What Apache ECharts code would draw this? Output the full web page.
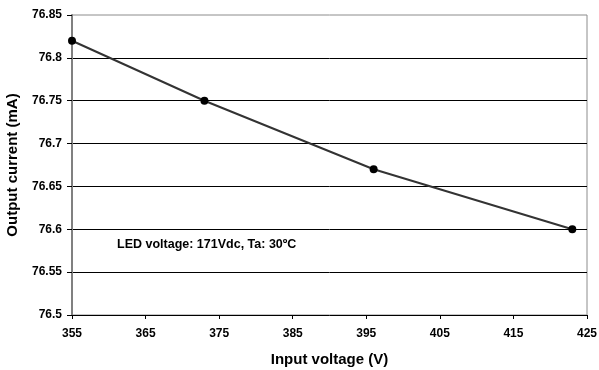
<!DOCTYPE html>
<html>
<head>
<meta charset="utf-8">
<script src="https://cdn.jsdelivr.net/npm/echarts@6/dist/echarts.min.js"></script>
<style>
  html, body { margin: 0; padding: 0; background: #fff; }
  #chart { width: 599px; height: 370px; }
</style>
</head>
<body>
<div id="chart"></div>
<script>
/*输入电压 (V)*/
var inputVoltage = [355, 373, 396, 423];
/*输出电流 (mA)*/
var outputCurrent = [76.82, 76.75, 76.67, 76.60];
var noteText = 'LED voltage: 171Vdc, Ta: 30ºC';

var myChart = echarts.init(document.getElementById('chart'));

var pts = [];
for (var i = 0; i < inputVoltage.length; i++) {
	pts.push([inputVoltage[i], outputCurrent[i]]);
}

var font = 'Liberation Sans, Arial, sans-serif';

var option = {
	animation: false,
	backgroundColor: '#fff',
	grid: {
		left: 72,
		right: 12,
		top: 15,
		bottom: 55,
		outerBoundsMode: 'none',
		containLabel: false,
		show: true,
		borderColor: '#8c8c8c',
		borderWidth: 1
	},
	xAxis: {
		type: 'value',
		min: 355,
		max: 425,
		interval: 10,
		name: 'Input voltage (V)',
		nameLocation: 'middle',
		nameGap: 37,
		nameTextStyle: { fontFamily: font, fontWeight: 'bold', fontSize: 15, color: '#000' },
		axisLine: { show: true, lineStyle: { color: '#000', width: 1 } },
		axisTick: { show: true, length: 4, lineStyle: { color: '#000' } },
		axisLabel: { fontFamily: font, fontWeight: 'bold', fontSize: 12, color: '#000', margin: 13 },
		splitLine: { show: false }
	},
	yAxis: {
		type: 'value',
		min: 76.5,
		max: 76.85,
		interval: 0.05,
		name: 'Output current (mA)',
		nameLocation: 'middle',
		nameGap: 52,
		nameTextStyle: { fontFamily: font, fontWeight: 'bold', fontSize: 15, color: '#000' },
		axisLine: { show: true, lineStyle: { color: '#808080', width: 2 } },
		axisTick: { show: true, length: 5, lineStyle: { color: '#000' } },
		axisLabel: {
			fontFamily: font, fontWeight: 'bold', fontSize: 12, color: '#000', margin: 10,
			formatter: function(v) { return String(parseFloat(v.toFixed(2))); }
		},
		splitLine: { show: true, showMinLine: false, showMaxLine: false, lineStyle: { color: '#000', width: 1 } }
	},
	graphic: [{
		type: 'text',
		left: 117,
		top: 238,
		style: { text: noteText, fontFamily: font, fontWeight: 'bold', fontSize: 12.5, fill: '#000' }
	}],
	series: [{
		type: 'line',
		data: pts,
		symbol: 'circle',
		symbolSize: 8,
		itemStyle: { color: '#000' },
		lineStyle: { color: '#333', width: 2 }
	}]
};

myChart.setOption(option);
</script>
</body>
</html>
